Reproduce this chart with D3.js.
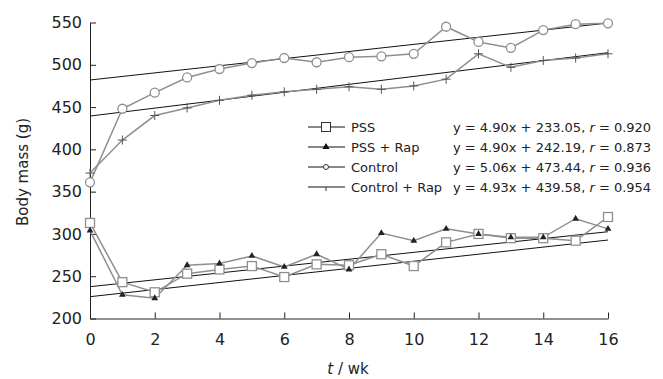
<!DOCTYPE html>
<html>
<head>
<meta charset="utf-8">
<script src="https://cdn.jsdelivr.net/npm/d3@7"></script>
<style>
  body { margin: 0; background: #fff; }
  svg { font-family: "DejaVu Sans", Verdana, sans-serif; }
</style>
</head>
<body>
<div id="chart"></div>
<script>
const weeks = d3.range(0, 17);
const pss = [313, 243, 231, 253, 258, 262, 249, 264, 263, 276, 262, 290, 300, 295, 295, 292, 320];
const pssRap = [304, 228, 224, 263, 265, 274, 261, 276, 258, 301, 292, 306, 300, 296, 296, 318, 306];
const control = [361, 448, 467, 485, 495, 502, 508, 503, 509, 510, 513, 545, 527, 520, 541, 548, 549];
const controlRap = [372, 411, 440, 449, 458, 464, 468, 471, 474, 471, 475, 483, 513, 497, 505, 508, 513];
// fitted lines as drawn (value at week 0, value at week 16)
const trendStart = [237.6, 225.8, 482, 439.4];
const trendEnd = [302.6, 292.8, 549.4, 514.3];
const seriesNames = ["PSS", "PSS + Rap", "Control", "Control + Rap"];
const equations = [
  ["y = 4.90x + 233.05, ", "0.920"],
  ["y = 4.90x + 242.19, ", "0.873"],
  ["y = 5.06x + 473.44, ", "0.936"],
  ["y = 4.93x + 439.58, ", "0.954"]
];
const xTicks = d3.range(0, 17, 2);
const yTicks = [200, 250, 300, 350, 400, 450, 500, 550];

const width = 663, height = 379;
const margin = { top: 22.5, right: 55, bottom: 60.5, left: 90 };
const innerW = width - margin.left - margin.right;
const innerH = height - margin.top - margin.bottom;

const svg = d3.select("#chart").append("svg")
  .attr("width", width)
  .attr("height", height);
const g = svg.append("g")
  .attr("transform", "translate(" + margin.left + "," + margin.top + ")");

const x = d3.scaleLinear().domain([0, 16]).range([0, innerW]);
const y = d3.scaleLinear().domain([200, 550]).range([innerH, 0]);

// axes, ticks pointing inward
const xAxis = g.append("g")
  .attr("transform", "translate(0," + innerH + ")")
  .call(d3.axisBottom(x).tickValues(xTicks).tickSize(-6).tickPadding(15).tickSizeOuter(0));
const yAxis = g.append("g")
  .call(d3.axisLeft(y).tickValues(yTicks).tickSize(-6).tickPadding(8).tickSizeOuter(0));
[xAxis, yAxis].forEach(a => {
  a.selectAll("path, line").attr("stroke", "#222").attr("stroke-width", 1);
  a.selectAll("text").attr("fill", "#222").style("font-size", "16px")
    .style("font-family", "'DejaVu Sans', Verdana, sans-serif");
});

// trend lines
const trends = seriesNames.map((n, i) => [[0, trendStart[i]], [16, trendEnd[i]]]);
g.selectAll(".trend")
  .data(trends)
  .enter().append("line")
  .attr("x1", d => x(d[0][0])).attr("y1", d => y(d[0][1]))
  .attr("x2", d => x(d[1][0])).attr("y2", d => y(d[1][1]))
  .attr("stroke", "#111").attr("stroke-width", 1);

const line = d3.line().x(d => x(d[0])).y(d => y(d[1]));
const allSeries = [pss, pssRap, control, controlRap].map(s => weeks.map((w, i) => [w, s[i]]));
const grey = "#8f8f8f";

allSeries.forEach(s => {
  g.append("path").datum(s)
    .attr("d", line)
    .attr("fill", "none")
    .attr("stroke", grey)
    .attr("stroke-width", 1.5);
});

function marker(sel, type, size) {
  if (type === 0) {
    sel.append("rect").attr("x", -size).attr("y", -size)
      .attr("width", size * 2).attr("height", size * 2)
      .attr("fill", "#fff").attr("stroke", grey).attr("stroke-width", 1.3);
  } else if (type === 1) {
    sel.append("path").attr("d", d3.symbol(d3.symbolTriangle, size * size * 2.2)())
      .attr("fill", "#222");
  } else if (type === 2) {
    sel.append("circle").attr("r", size)
      .attr("fill", "#fff").attr("stroke", grey).attr("stroke-width", 1.3);
  } else {
    sel.append("path").attr("d", "M" + (-size) + ",0H" + size + "M0," + (-size) + "V" + size)
      .attr("stroke", "#555").attr("stroke-width", 1);
  }
}

allSeries.forEach((s, k) => {
  g.selectAll(".m" + k)
    .data(s)
    .enter().append("g")
    .attr("transform", d => "translate(" + x(d[0]) + "," + y(d[1]) + ")")
    .each(function () { marker(d3.select(this), k, k === 1 ? 3 : 4.5); });
});

// legend
const legend = svg.append("g").attr("transform", "translate(308,127)");
seriesNames.forEach((name, i) => {
  const row = legend.append("g").attr("transform", "translate(0," + (i * 20) + ")");
  row.append("line").attr("x1", 0).attr("x2", 37).attr("y1", 0).attr("y2", 0)
    .attr("stroke", "#111").attr("stroke-width", 1);
  const m = row.append("g").attr("transform", "translate(18,0)");
  if (i === 0) m.append("rect").attr("x", -4.5).attr("y", -4.5).attr("width", 9).attr("height", 9)
    .attr("fill", "#fff").attr("stroke", "#333");
  else if (i === 1) m.append("path").attr("d", d3.symbol(d3.symbolTriangle, 22)()).attr("fill", "#111");
  else if (i === 2) m.append("circle").attr("r", 2.5).attr("fill", "#fff").attr("stroke", "#333");
  else m.append("line").attr("x1", 0).attr("x2", 0).attr("y1", 0).attr("y2", 4).attr("stroke", "#333");
  row.append("text").attr("x", 43).attr("y", 5)
    .style("font-size", "13px").attr("fill", "#222").text(name);
  const eq = row.append("text").attr("x", 145).attr("y", 5)
    .style("font-size", "13px").attr("fill", "#222");
  eq.append("tspan").text(equations[i][0]);
  eq.append("tspan").style("font-style", "italic").text("r");
  eq.append("tspan").text(" = " + equations[i][1]);
});

// axis titles
const xt = svg.append("text").attr("x", 348).attr("y", 374)
  .attr("text-anchor", "middle").style("font-size", "15px").attr("fill", "#222");
xt.append("tspan").style("font-style", "italic").text("t");
xt.append("tspan").text(" / wk");
svg.append("text")
  .attr("transform", "translate(28,172) rotate(-90)")
  .attr("text-anchor", "middle").style("font-size", "15px").attr("fill", "#222")
  .text("Body mass (g)");
</script>
</body>
</html>
